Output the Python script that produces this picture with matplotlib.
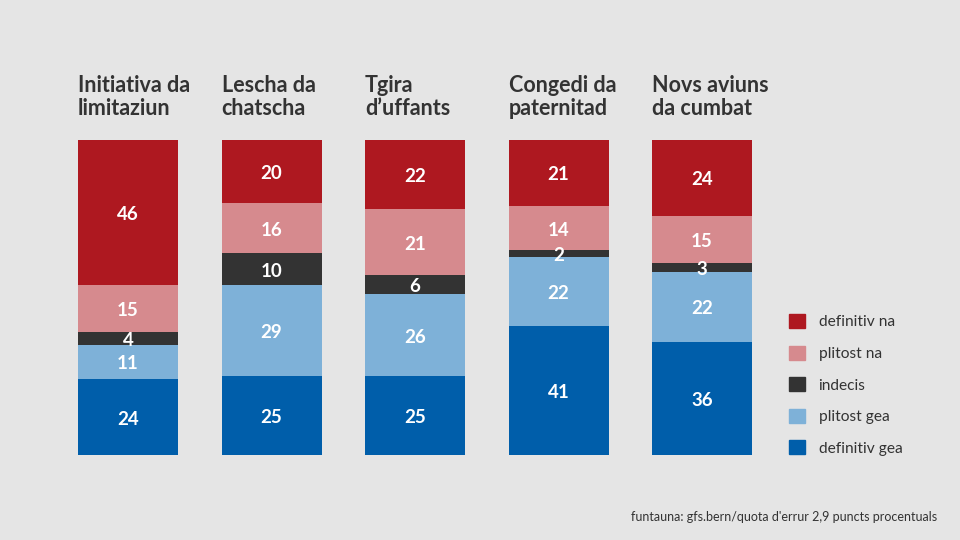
import matplotlib.pyplot as plt
import matplotlib.transforms as mtransforms
from matplotlib.patches import Patch
import numpy as np

plt.rcParams['font.family'] = ['Lato', 'DejaVu Sans']

titles = ['Initiativa da\nlimitaziun', 'Lescha da\nchatscha', 'Tgira\nd\u2019uffants',
          'Congedi da\npaternitad', 'Novs aviuns\nda cumbat']
categories = ['definitiv gea', 'plitost gea', 'indecis', 'plitost na', 'definitiv na']
colors = ['#005eaa', '#7eb1d8', '#333333', '#d68a8e', '#ae1820']

definitiv_gea = [24, 25, 25, 41, 36]
plitost_gea = [11, 29, 26, 22, 22]
indecis = [4, 10, 6, 2, 3]
plitost_na = [15, 16, 21, 14, 15]
definitiv_na = [46, 20, 22, 21, 24]

series = [definitiv_gea, plitost_gea, indecis, plitost_na, definitiv_na]
source = "funtauna: gfs.bern/quota d'errur 2,9 puncts procentuals"

bg = '#e5e5e5'
fig = plt.figure(figsize=(9.6, 5.4), dpi=100, facecolor=bg)
ax = fig.add_axes([78 / 960, 85 / 540, 674 / 960, 315 / 540])
ax.set_facecolor(bg)

w = 100 / 143.5
x = np.arange(len(titles))
bottom = np.zeros(len(titles))
handles = []
for vals, col, name in zip(series, colors, categories):
    vals = np.array(vals)
    ax.bar(x, vals, w, bottom=bottom, color=col, linewidth=0)
    for xi, b, v in zip(x, bottom, vals):
        ax.text(xi, b + v / 2 - 0.6, str(v), ha='center', va='center', color='white',
                fontsize=13.5, fontweight='bold')
    bottom += vals
    handles.append(Patch(color=col, label=name))

ax.set_xlim(-w / 2, len(titles) - 1 + w / 2)
ax.set_ylim(0, 100)
ax.axis('off')

trans = mtransforms.blended_transform_factory(ax.transData, fig.transFigure)
for xi, t in zip(x, titles):
    fig.text(xi - w / 2, 1 - 75 / 540, t, transform=trans, ha='left', va='top',
             fontsize=15.5, fontweight='bold', color='#333333', linespacing=1.1)

leg = fig.legend(handles=handles[::-1], loc='upper left',
                 bbox_to_anchor=(775 / 960, 1 - 300 / 540), frameon=False,
                 fontsize=11.2, handlelength=1.0, handleheight=1.0,
                 labelspacing=1.05, handletextpad=0.9)
for txt in leg.get_texts():
    txt.set_color('#333333')

fig.text(937 / 960, 1 - 517 / 540, source, ha='right', va='center',
         fontsize=9, color='#333333')

fig.savefig('out.png', dpi=100, facecolor=bg)
